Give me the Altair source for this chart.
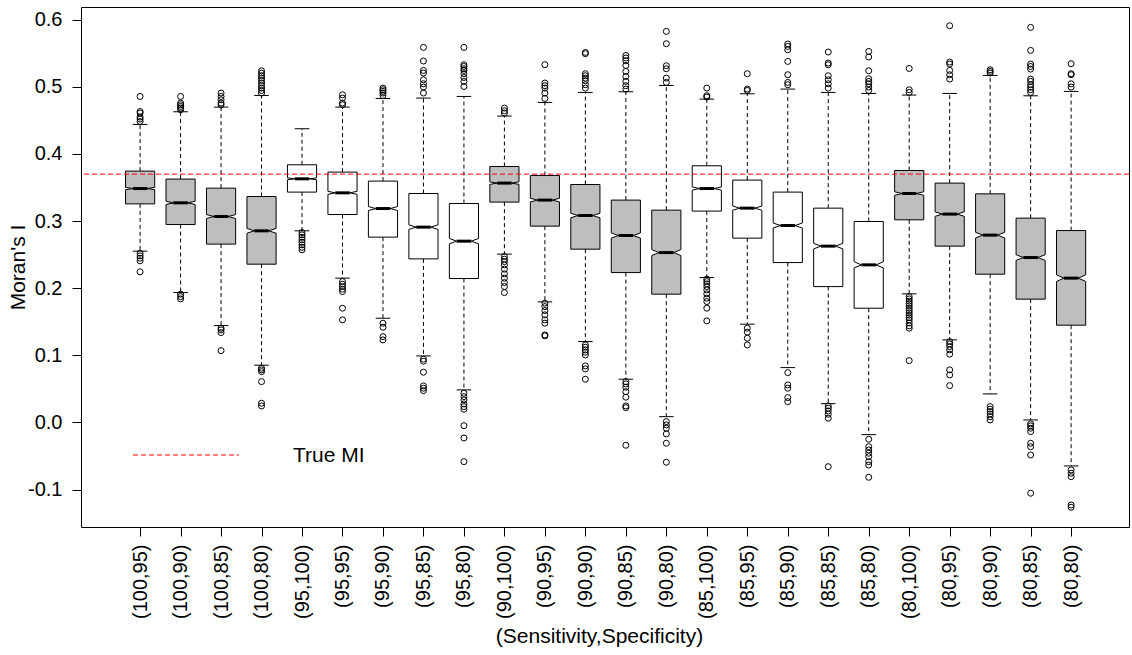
import json
import altair as alt
import pandas as pd

# (Sensitivity,Specificity) scenarios, one box each
labels = ["(100,95)", "(100,90)", "(100,85)", "(100,80)",
          "(95,100)", "(95,95)", "(95,90)", "(95,85)", "(95,80)",
          "(90,100)", "(90,95)", "(90,90)", "(90,85)", "(90,80)",
          "(85,100)", "(85,95)", "(85,90)", "(85,85)", "(85,80)",
          "(80,100)", "(80,95)", "(80,90)", "(80,85)", "(80,80)"]
shade = ["gray", "gray", "gray", "gray",
         "white", "white", "white", "white", "white",
         "gray", "gray", "gray", "gray", "gray",
         "white", "white", "white", "white", "white",
         "gray", "gray", "gray", "gray", "gray"]

# five-number summaries of Moran's I per scenario
q3 = [0.3745, 0.3626, 0.3491, 0.3366, 0.3839, 0.3730, 0.3596, 0.3411, 0.3262, 0.3813, 0.3679, 0.3545,
      0.3313, 0.3163, 0.3824, 0.3611, 0.3432, 0.3193, 0.2994, 0.3754, 0.3566, 0.3406, 0.3044, 0.2859]
med = [0.3485, 0.3272, 0.3068, 0.2855, 0.3630, 0.3421, 0.3187, 0.2910, 0.2701, 0.3566, 0.3313, 0.3083,
       0.2785, 0.2531, 0.3485, 0.3193, 0.2934, 0.2627, 0.2348, 0.3411, 0.3104, 0.2791, 0.2457, 0.2150]
q1 = [0.3257, 0.2949, 0.2657, 0.2358, 0.3432, 0.3098, 0.2761, 0.2437, 0.2144, 0.3283, 0.2925, 0.2582,
      0.2233, 0.1911, 0.3149, 0.2746, 0.2382, 0.2024, 0.1702, 0.3019, 0.2627, 0.2209, 0.1837, 0.1449]
w_hi = [0.4440, 0.4629, 0.4699, 0.4872, 0.4376, 0.4699, 0.4827, 0.4833, 0.4857, 0.4565, 0.4768, 0.4917,
        0.4927, 0.5021, 0.4818, 0.4897, 0.4967, 0.4917, 0.4902, 0.4878, 0.4902, 0.5170, 0.4867, 0.4932]
w_lo = [0.2552, 0.1935, 0.1443, 0.0853, 0.2855, 0.2150, 0.1553, 0.0991, 0.0485, 0.2508, 0.1796, 0.1205,
        0.0644, 0.0086, 0.2159, 0.1464, 0.0817, 0.0280, -0.0182, 0.1916, 0.1230, 0.0425, 0.0037, -0.0648]

out_hi = [
    [0.4857, 0.4633, 0.4610, 0.4550, 0.4520, 0.4484],
    [0.4857, 0.4759, 0.4733, 0.4708, 0.4684, 0.4659],
    [0.4908, 0.4857, 0.4808, 0.4759, 0.4733],
    [0.5240, 0.5206, 0.5166, 0.5131, 0.5096, 0.5057, 0.5017, 0.4983, 0.4947, 0.4908],
    [],
    [0.4882, 0.4833, 0.4759, 0.4733],
    [0.4982, 0.4957, 0.4932, 0.4908, 0.4872],
    [0.5588, 0.5385, 0.5245, 0.5206, 0.5106, 0.5046, 0.4997, 0.4908],
    [0.5588, 0.5330, 0.5304, 0.5270, 0.5245, 0.5196, 0.5140, 0.5081, 0.5006],
    [0.4684, 0.4644, 0.4610],
    [0.5330, 0.5057, 0.5017, 0.4982, 0.4908, 0.4827],
    [0.5513, 0.5494, 0.5196, 0.5166, 0.5131, 0.5091, 0.5032, 0.4982],
    [0.5468, 0.5430, 0.5389, 0.5319, 0.5230, 0.5155, 0.5081, 0.5017, 0.4967],
    [0.5826, 0.5643, 0.5315, 0.5270, 0.5131, 0.5066],
    [0.4982, 0.4868, 0.4848],
    [0.5196, 0.4967, 0.4947],
    [0.5638, 0.5602, 0.5553, 0.5379, 0.5181, 0.5066, 0.5032],
    [0.5519, 0.5355, 0.5330, 0.5166, 0.5106, 0.5046, 0.4982],
    [0.5528, 0.5445, 0.5240, 0.5121, 0.5081, 0.5046, 0.4997, 0.4947],
    [0.5274, 0.4957, 0.4917],
    [0.5911, 0.5370, 0.5340, 0.5245, 0.5180, 0.5116],
    [0.5255, 0.5230, 0.5206],
    [0.5886, 0.5543, 0.5340, 0.5304, 0.5265, 0.5116, 0.5081, 0.5032, 0.4997, 0.4957, 0.4917],
    [0.5345, 0.5196, 0.5181, 0.5046, 0.4997],
]
out_lo = [
    [0.2522, 0.2482, 0.2448, 0.2408, 0.2244],
    [0.1911, 0.1875, 0.1841],
    [0.1404, 0.1379, 0.1339, 0.1070],
    [0.0808, 0.0783, 0.0757, 0.0608, 0.0286, 0.0246],
    [0.2830, 0.2795, 0.2758, 0.2721, 0.2684, 0.2646, 0.2609, 0.2572],
    [0.2099, 0.2060, 0.2024, 0.1986, 0.1950, 0.1702, 0.1528],
    [0.1479, 0.1419, 0.1279, 0.1230],
    [0.0942, 0.0912, 0.0748, 0.0544, 0.0510, 0.0474],
    [0.0435, 0.0385, 0.0335, 0.0276, 0.0236, 0.0197, -0.0048, -0.0231, -0.0584],
    [0.2472, 0.2433, 0.2397, 0.2348, 0.2284, 0.2214, 0.2150, 0.2084, 0.2025, 0.1935],
    [0.1777, 0.1726, 0.1667, 0.1603, 0.1528, 0.1479, 0.1304, 0.1290],
    [0.1155, 0.1121, 0.1081, 0.1047, 0.1006, 0.0842, 0.0798, 0.0644],
    [0.0608, 0.0574, 0.0525, 0.0459, 0.0376, 0.0246, 0.0221, -0.0340],
    [0.0012, -0.0037, -0.0086, -0.0171, -0.0310, -0.0593],
    [0.2135, 0.2099, 0.2065, 0.2025, 0.1975, 0.1916, 0.1852, 0.1801, 0.1702, 0.1513],
    [0.1404, 0.1345, 0.1255, 0.1155],
    [0.0742, 0.0559, 0.0510, 0.0370, 0.0310],
    [0.0246, 0.0212, 0.0171, 0.0122, 0.0063, -0.0659],
    [-0.0250, -0.0361, -0.0410, -0.0459, -0.0510, -0.0584, -0.0634, -0.0817],
    [0.1875, 0.1841, 0.1807, 0.1771, 0.1737, 0.1702, 0.1667, 0.1632, 0.1598, 0.1562, 0.1528,
     0.1483, 0.1439, 0.1404, 0.0921],
    [0.1205, 0.1170, 0.1130, 0.1081, 0.1017, 0.0783, 0.0708, 0.0549],
    [0.0236, 0.0197, 0.0161, 0.0127, 0.0086, 0.0037],
    [-0.0022, -0.0052, -0.0086, -0.0137, -0.0310, -0.0361, -0.0485, -0.1055],
    [-0.0708, -0.0757, -0.0808, -0.1230, -0.1264],
]

TRUE_MI = 0.37
N_SIM = 2000          # replicates per scenario (sets the notch height)
y_ticks = [-0.1, 0.0, 0.1, 0.2, 0.3, 0.4, 0.5, 0.6]

FONT = "Liberation Sans"
HALF_W = 0.36         # half box width, in slot units
STAPLE_HALF = 0.18

# ---- derived tables -------------------------------------------------------
poly_rows, box_rows, pt_rows = [], [], []
for i in range(len(labels)):
    c = i + 1
    notch = 1.58 * (q3[i] - q1[i]) / N_SIM ** 0.5
    outline = [(q1[i], HALF_W), (med[i] - notch, HALF_W), (med[i], HALF_W / 2),
               (med[i] + notch, HALF_W), (q3[i], HALF_W)]
    for yv, hw in outline:
        poly_rows.append({"box": c, "y": yv, "xl": c - hw, "xr": c + hw, "shade": shade[i]})
    box_rows.append({"box": c, "q1": q1[i], "q3": q3[i], "med": med[i],
                     "lo": w_lo[i], "hi": w_hi[i],
                     "ml": c - HALF_W / 2, "mr": c + HALF_W / 2,
                     "sl": c - STAPLE_HALF, "sr": c + STAPLE_HALF})
    for v in out_hi[i] + out_lo[i]:
        pt_rows.append({"box": c, "v": v})

poly = pd.DataFrame(poly_rows)
boxes = pd.DataFrame(box_rows)
pts = pd.DataFrame(pt_rows)

# ---- scales and axes --------------------------------------------------------
xs = alt.Scale(domain=[-0.46, 25.43], nice=False, zero=False)
ys = alt.Scale(domain=[-0.1558, 0.619], nice=False, zero=False)

x_axis = alt.Axis(
    values=list(range(1, len(labels) + 1)),
    labelExpr=json.dumps(labels) + "[datum.value - 1]",
    labelAngle=270, labelAlign="right", labelBaseline="middle",
    labelFontSize=20, labelPadding=8, tickSize=9, labelFlush=False, labelOverlap=False,
    title="(Sensitivity,Specificity)", titleFontSize=21,
    titleX=518, titleY=109, titleAlign="center", titleBaseline="middle",
)
y_axis = alt.Axis(
    values=y_ticks,
    labelExpr="datum.value < 0 ? '-' + format(-datum.value, '.1f') : format(datum.value, '.1f')",
    labelFontSize=20, labelPadding=10, tickSize=9, labelFlush=False, labelOverlap=False,
    title="Moran's I", titleFontSize=21, titleAngle=270,
    titleX=-63, titleY=260, titleAlign="center", titleBaseline="middle",
)


def X(field, **kw):
    return alt.X(field, scale=xs, axis=x_axis, **kw)


def Y(field, **kw):
    return alt.Y(field, scale=ys, axis=y_axis, **kw)


# ---- layers ------------------------------------------------------------------
whisk_up = alt.Chart(boxes).mark_rule(color="black", strokeWidth=1, strokeDash=[4, 3]).encode(
    x=X("box:Q"), y=Y("q3:Q"), y2="hi:Q")
whisk_dn = alt.Chart(boxes).mark_rule(color="black", strokeWidth=1, strokeDash=[4, 3]).encode(
    x=X("box:Q"), y=Y("q1:Q"), y2="lo:Q")
staple_up = alt.Chart(boxes).mark_rule(color="black", strokeWidth=1).encode(
    x=X("sl:Q"), x2="sr:Q", y=Y("hi:Q"))
staple_dn = alt.Chart(boxes).mark_rule(color="black", strokeWidth=1).encode(
    x=X("sl:Q"), x2="sr:Q", y=Y("lo:Q"))

body = alt.Chart(poly).mark_area(
    orient="horizontal", stroke="black", strokeWidth=1, opacity=1, interpolate="linear"
).encode(
    y=Y("y:Q"),
    x=X("xl:Q", stack=None),
    x2="xr:Q",
    fill=alt.Fill("shade:N", scale=alt.Scale(domain=["gray", "white"], range=["#BEBEBE", "#FFFFFF"]),
                  legend=None),
    detail="box:N",
)

median = alt.Chart(boxes).mark_rule(color="black", strokeWidth=3).encode(
    x=X("ml:Q"), x2="mr:Q", y=Y("med:Q"))

outliers = alt.Chart(pts).mark_point(
    shape="circle", filled=False, size=36, stroke="black", strokeWidth=1, opacity=1
).encode(x=X("box:Q"), y=Y("v:Q"))

true_line = alt.Chart(pd.DataFrame({"v": [TRUE_MI]})).mark_rule(
    color="#FF0000", strokeWidth=1, strokeDash=[5, 3]
).encode(y=Y("v:Q"))

key = pd.DataFrame({"t": ["True MI"]})
key_line = alt.Chart(key).mark_rule(color="#FF0000", strokeWidth=1, strokeDash=[5, 3]).encode(
    x=alt.value(52), x2=alt.value(158), y=alt.value(448))
key_text = alt.Chart(key).mark_text(
    align="left", baseline="middle", fontSize=21, font=FONT, color="black"
).encode(x=alt.value(212), y=alt.value(449), text="t:N")

chart = alt.layer(
    whisk_up, whisk_dn, staple_up, staple_dn, body, median, outliers, true_line, key_line, key_text
).properties(
    width=1048, height=520,
    autosize=alt.AutoSizeParams(type="none"),
    padding={"left": 81, "top": 7, "right": 3, "bottom": 128},
    background="white",
).configure_view(
    stroke="black", strokeWidth=1
).configure_axis(
    grid=False, domain=False, tickColor="black", tickWidth=1,
    labelColor="black", titleColor="black",
    labelFont=FONT, titleFont=FONT, titleFontWeight="normal",
)

chart.save("out.html", embed_options={"renderer": "svg", "actions": False})
